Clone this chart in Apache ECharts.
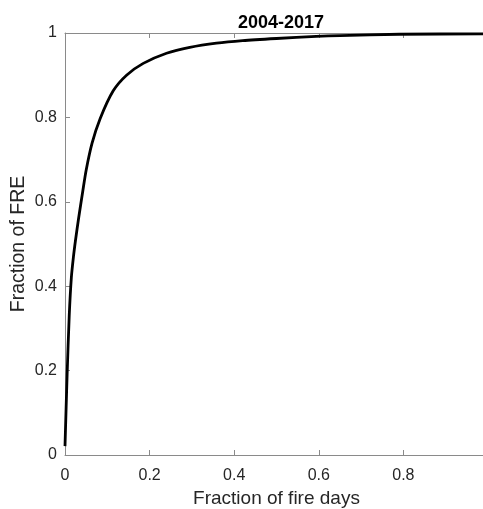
<!DOCTYPE html>
<html>
<head>
<meta charset="utf-8">
<script src="https://cdn.jsdelivr.net/npm/echarts@6/dist/echarts.min.js"></script>
<style>
  html, body { margin: 0; padding: 0; background: #fff; }
  #chart { width: 483px; height: 509px; }
</style>
</head>
<body>
<div id="chart"></div>
<script>
// 曲线数据
const fireDays = [0, 0.005, 0.010, 0.015, 0.020, 0.025, 0.032, 0.042, 0.050, 0.064, 0.083, 0.114, 0.1455, 0.185, 0.240, 0.295, 0.358, 0.420, 0.500, 0.594, 0.650, 0.790, 1.0];
const fre = [0.021, 0.19, 0.33, 0.42, 0.47, 0.51, 0.56, 0.625, 0.675, 0.739, 0.797, 0.863, 0.900, 0.928, 0.952, 0.966, 0.976, 0.982, 0.987, 0.992, 0.994, 0.997, 0.998];
const titleText = '2004-2017';
const xName = 'Fraction of fire days';
const yName = 'Fraction of FRE';

const textColor = '#262626';
const lineColor = '#8a8a8a';
const font = 'Liberation Sans, Arial, sans-serif';

const chart = echarts.init(document.getElementById('chart'), null, { renderer: 'canvas' });

// 坐标轴公共样式
const boxAxis = {
  min: 0,
  max: 1,
  interval: 0.2,
  axisLine: { show: true, onZero: false, lineStyle: { color: lineColor, width: 1 } },
  axisTick: { show: true, inside: true, length: 5, lineStyle: { color: lineColor } },
  splitLine: { show: false }
};

const option = {
  animation: false,
  backgroundColor: '#fff',
  title: {
    text: titleText,
    left: 276,
    textAlign: 'center',
    top: 9,
    textStyle: { fontFamily: font, fontSize: 18, fontWeight: 'bold', color: '#000' }
  },
  // 右侧坐标框超出画布, 不要自动收缩
  grid: { left: 65, top: 33, width: 423, height: 422, containLabel: false, outerBoundsMode: 'none' },
  xAxis: [
    Object.assign({}, boxAxis, {
      type: 'value',
      position: 'bottom',
      name: xName,
      nameLocation: 'middle',
      nameGap: 34,
      nameTextStyle: { fontFamily: font, fontSize: 19, color: textColor },
      axisLabel: { fontFamily: font, fontSize: 16, color: textColor, margin: 13,
        formatter: v => String(Math.round(v * 10) / 10) }
    }),
    Object.assign({}, boxAxis, {
      type: 'value',
      position: 'top',
      axisLabel: { show: false }
    })
  ],
  yAxis: [
    Object.assign({}, boxAxis, {
      type: 'value',
      position: 'left',
      name: yName,
      nameLocation: 'middle',
      nameGap: 36,
      nameMoveOverlap: false,
      nameTextStyle: { fontFamily: font, fontSize: 19.5, color: textColor },
      axisLabel: { fontFamily: font, fontSize: 16, color: textColor, margin: 8,
        formatter: v => String(Math.round(v * 10) / 10) }
    }),
    Object.assign({}, boxAxis, {
      type: 'value',
      position: 'right',
      axisLabel: { show: false }
    })
  ],
  series: [{
    type: 'line',
    data: fireDays.map((x, i) => [x, fre[i]]),
    smooth: 0.25,
    symbol: 'none',
    lineStyle: { color: '#000', width: 2.8 }
  }]
};
chart.setOption(option);
</script>
</body>
</html>
